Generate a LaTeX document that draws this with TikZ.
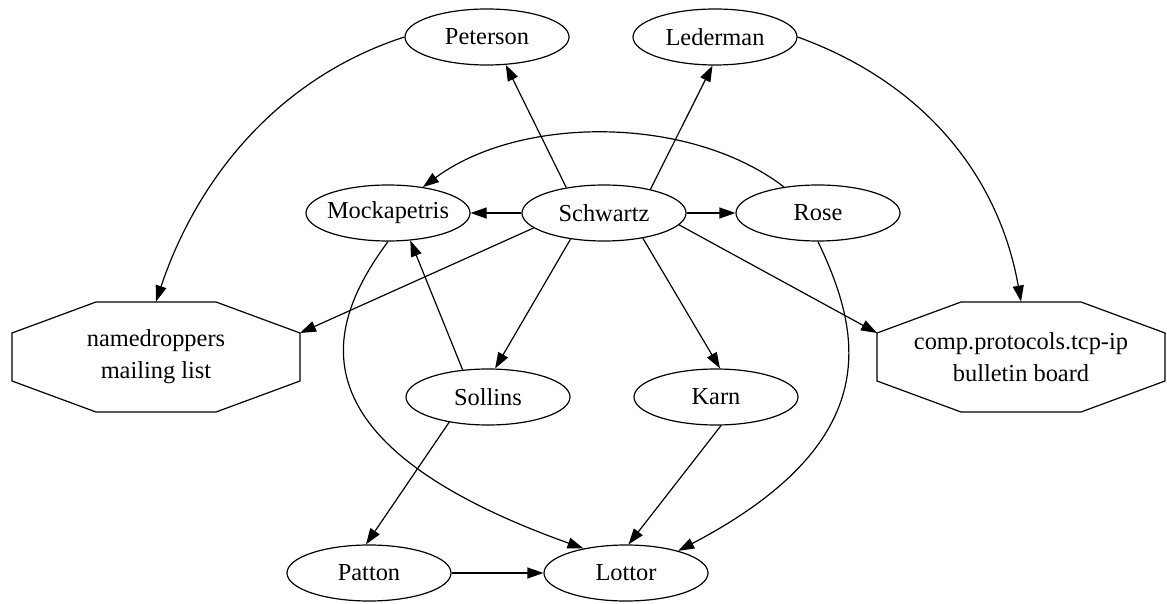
\documentclass[tikz,border=0pt]{standalone}
\usepackage{fontspec}
\setmainfont{Liberation Serif}
\usetikzlibrary{arrows.meta,shapes.geometric}

\begin{document}
\begin{tikzpicture}[
  x=0.5pt, y=-0.5pt,
  every node/.style={font=\fontsize{12.2}{16}\selectfont},
  person/.style={draw, ellipse, line width=0.6pt, minimum width=82pt, minimum height=28pt,
                 inner xsep=-2pt, inner ysep=0pt},
  board/.style={align=center, minimum width=144pt, minimum height=55pt, inner sep=0pt},
  octline/.style={line width=0.6pt, line join=miter},
  arr/.style={-{Triangle[length=8pt,width=5.5pt]}, line width=0.6pt},
]
\useasboundingbox (0,0) rectangle (1167,604);

% people
\node[person] (peterson) at (487,37)  {Peterson};
\node[person] (lederman) at (715,37)  {Lederman};
\node[person] (mock)     at (388,213) {Mockapetris};
\node[person] (schwartz) at (604,213) {Schwartz};
\node[person] (rose)     at (818,213) {Rose};
\node[person] (sollins)  at (488,397) {Sollins};
\node[person] (karn)     at (716,397) {Karn};
\node[person] (patton)   at (369,573) {Patton};
\node[person] (lottor)   at (626,573) {Lottor};

% lists and boards
\node[board] (nd)   at (156,357)  {namedroppers\\mailing list};
\node[board] (comp) at (1021,357) {comp.protocols.tcp-ip\\bulletin board};
\foreach \b in {nd,comp} {
  \draw[octline] ([shift={(-60,-55)}]\b.center) -- ([shift={(60,-55)}]\b.center)
    -- ([shift={(144,-24)}]\b.center) -- ([shift={(144,24)}]\b.center)
    -- ([shift={(60,55)}]\b.center) -- ([shift={(-60,55)}]\b.center)
    -- ([shift={(-144,24)}]\b.center) -- ([shift={(-144,-24)}]\b.center) -- cycle;
}
\coordinate (nd-ne)   at ([shift={(144,-24)}]nd.center);
\coordinate (comp-nw) at ([shift={(-144,-24)}]comp.center);

% Schwartz fans out
\draw[arr] (schwartz.146) -- (peterson.-56);
\draw[arr] (schwartz.27) -- (lederman.-95);
\draw[arr] (schwartz.west) -- (mock.east);
\draw[arr] (schwartz.east) -- (rose.west);
\draw[arr] (schwartz.192) -- (nd-ne);
\draw[arr] (schwartz.-9) -- (comp-nw);
\draw[arr] (schwartz.218) -- (sollins.76);
\draw[arr] (schwartz.-33) -- (karn.82);

% the rest
\draw[arr] (rose) .. controls (690,115) and (520,115) .. (mock);
\draw[arr] (peterson.west) .. controls (275,79) and (196,182) .. (nd.north);
\draw[arr] (lederman.east) .. controls (930,85) and (1000,182) .. (comp.north);
\draw[arr] (sollins.133) -- (mock.-51);
\draw[arr] (sollins.213) -- (patton.96);
\draw[arr] (mock.south) .. controls (330,320) and (280,440) .. (lottor.150);
\draw[arr] (rose.south) .. controls (860,330) and (890,440) .. (lottor.23);
\draw[arr] (karn.-80) -- (lottor.85);
\draw[arr] (patton.east) -- (lottor.west);
\end{tikzpicture}
\end{document}
